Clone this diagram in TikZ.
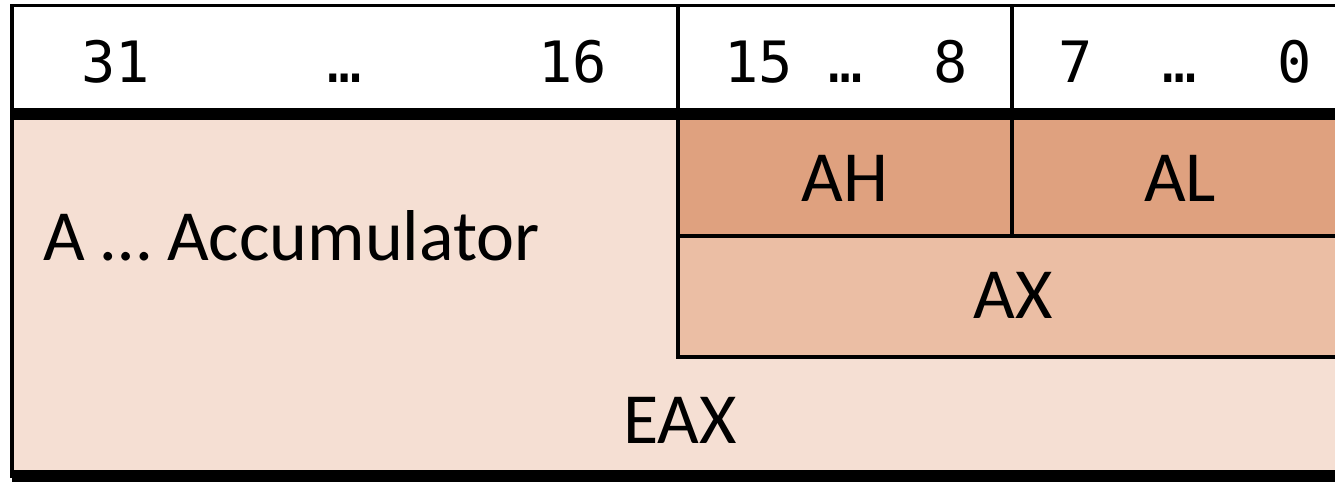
\documentclass[tikz,border=0pt]{standalone}
\usepackage{fontspec}
\setmainfont{Carlito}
\newfontfamily\bitfont{DejaVu Sans Mono}
\definecolor{eaxfill}{HTML}{F5DFD3}
\definecolor{axfill}{HTML}{EBBEA4}
\definecolor{ahfill}{HTML}{DFA17F}
\tikzset{
  rule/.style={line width=3.6pt, line cap=rect},
  heavyrule/.style={line width=11.5pt},
  bitnum/.style={font=\bitfont\fontsize{57}{60}\selectfont, inner sep=0pt, anchor=base},
  regname/.style={font=\fontsize{72}{76}\selectfont, inner sep=0pt, anchor=base},
}
\begin{document}
\begin{tikzpicture}[x=1pt, y=-1pt]
\useasboundingbox (0,0) rectangle (1335,482);
% coordinates of the register grid
\coordinate (tl) at (12,5.5);
\coordinate (tr) at (1348,5.5);
\coordinate (hl) at (12,114);
\coordinate (hr) at (1348,114);
\coordinate (bl) at (12,476);
\coordinate (br) at (1348,476);
\coordinate (c1t) at (678,5.5);
\coordinate (c1b) at (678,357);
\coordinate (c2t) at (1012,5.5);
\coordinate (c2b) at (1012,236);
\coordinate (ahl) at (678,236);
\coordinate (ahr) at (1348,236);
\coordinate (axr) at (1348,357);
% fills: 32-bit, 16-bit and 8-bit parts
\fill[eaxfill] (hl) rectangle (br);
\fill[axfill] (ahl) rectangle (axr);
\fill[ahfill] (678,114) rectangle (ahr);
% grid lines
\draw[rule] (tl) -- (tr);
\draw[rule] (tl) -- (bl);
\draw[rule] (c1t) -- (c1b);
\draw[rule] (c2t) -- (c2b);
\draw[rule] (ahl) -- (ahr);
\draw[rule] (c1b) -- (axr);
\draw[heavyrule] (hl) -- (hr);
\draw[heavyrule] (bl) -- (br);
% bit numbers
\node[bitnum, anchor=base west] (b31) at (81,82) {31};
\node[bitnum] (d1) at (345,82) {…};
\node[bitnum, anchor=base east] (b16) at (607,82) {16};
\node[bitnum, anchor=base west] (b15) at (724,82) {15};
\node[bitnum] (d2) at (846,82) {…};
\node[bitnum, anchor=base east] (b8) at (968,82) {8};
\node[bitnum, anchor=base west] (b7) at (1058,82) {7};
\node[bitnum] (d3) at (1180,82) {…};
\node[bitnum, anchor=base east] (b0) at (1312,82) {0};
% register names
\node[regname] (ah) at (845,201) {AH};
\node[regname] (al) at (1180,201) {AL};
\node[regname] (ax) at (1013,318) {AX};
\node[regname] (eax) at (680,443) {EAX};
\node[regname, anchor=base west] (acc) at (43,260) {A … Accumulator};
\end{tikzpicture}
\end{document}
